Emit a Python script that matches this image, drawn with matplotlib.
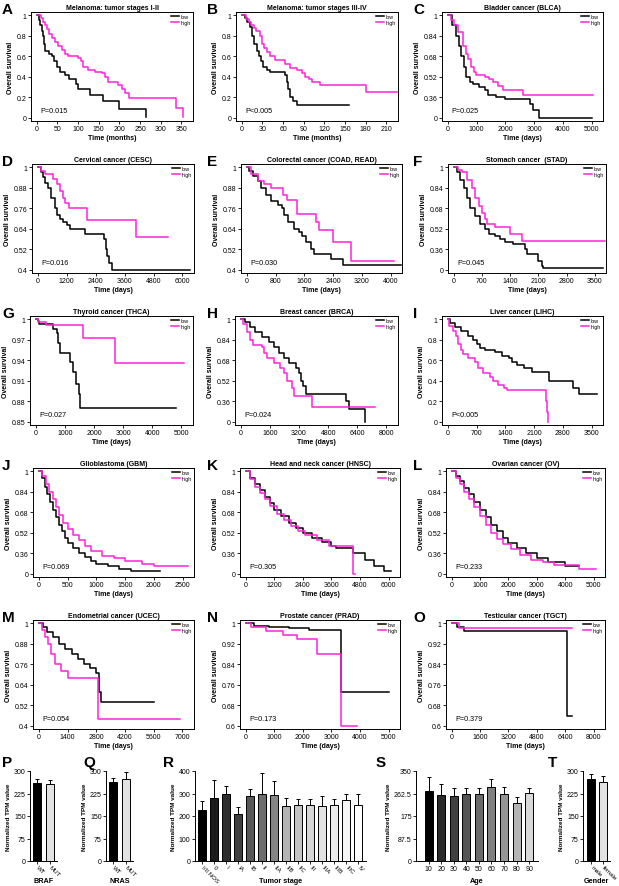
import matplotlib
matplotlib.use('Agg')
import matplotlib.pyplot as plt
import numpy as np

plt.rcParams['font.family'] = ['Liberation Sans', 'DejaVu Sans']

W, H = 619, 887
fig = plt.figure(figsize=(W / 100, H / 100), dpi=100)
MAG = '#ff22dd'

# ---------------- Kaplan-Meier data (time, survival as plotted on each axis) ----------------
A_low_t = [0, 5, 8, 12, 15, 18, 20, 30, 36, 42, 48, 56, 68, 77, 95, 100, 129, 161, 199, 265]
A_low_s = [1, 0.95, 0.9, 0.85, 0.8, 0.72, 0.65, 0.62, 0.6, 0.55, 0.5, 0.45, 0.42, 0.38, 0.33, 0.28, 0.22, 0.16, 0.09, 0.01]
A_high_t = [0, 10, 15, 20, 25, 30, 38, 45, 52, 60, 68, 76, 100, 106, 112, 124, 140, 157, 165, 173, 197, 205, 213, 222, 338, 354]
A_high_s = [1, 0.97, 0.93, 0.9, 0.86, 0.82, 0.78, 0.74, 0.7, 0.66, 0.62, 0.6, 0.58, 0.55, 0.5, 0.47, 0.45, 0.44, 0.4, 0.35, 0.32, 0.28, 0.24, 0.19, 0.1, 0.01]

B_low_t = [0, 4, 8, 12, 15, 18, 22, 25, 28, 31, 36, 41, 63, 65, 67, 70, 75, 80, 156]
B_low_s = [1, 0.97, 0.93, 0.88, 0.8, 0.72, 0.65, 0.6, 0.55, 0.5, 0.47, 0.45, 0.42, 0.35, 0.28, 0.2, 0.16, 0.13, 0.13]
B_high_t = [0, 6, 10, 14, 18, 21, 26, 29, 32, 36, 41, 48, 63, 70, 80, 87, 92, 97, 102, 114, 180, 225]
B_high_s = [1, 0.96, 0.93, 0.9, 0.87, 0.85, 0.8, 0.72, 0.68, 0.64, 0.6, 0.56, 0.52, 0.49, 0.47, 0.44, 0.4, 0.38, 0.35, 0.32, 0.25, 0.25]

C_low_t = [0, 150, 290, 380, 465, 550, 640, 760, 870, 1100, 1280, 1400, 1690, 1980, 2850, 2960, 3170, 5000]
C_low_s = [1, 0.92, 0.84, 0.76, 0.68, 0.6, 0.52, 0.48, 0.46, 0.44, 0.42, 0.38, 0.36, 0.345, 0.31, 0.26, 0.2, 0.2]
C_high_t = [0, 100, 200, 350, 520, 640, 700, 820, 930, 990, 1280, 1420, 1570, 1745, 1920, 2620, 5050]
C_high_s = [1, 0.96, 0.92, 0.87, 0.76, 0.7, 0.66, 0.6, 0.56, 0.53, 0.52, 0.5, 0.48, 0.45, 0.42, 0.377, 0.377]

D_low_t = [0, 140, 210, 300, 420, 560, 700, 800, 920, 1060, 1200, 1340, 1970, 2750, 2820, 2890, 2960, 3060, 6300]
D_low_s = [1, 0.97, 0.94, 0.91, 0.88, 0.82, 0.76, 0.72, 0.7, 0.68, 0.66, 0.64, 0.61, 0.58, 0.52, 0.48, 0.44, 0.4, 0.4]
D_high_t = [0, 140, 280, 630, 800, 920, 1060, 1130, 1300, 2040, 4090, 5400]
D_high_s = [1, 0.98, 0.96, 0.93, 0.9, 0.86, 0.82, 0.79, 0.76, 0.69, 0.59, 0.59]

E_low_t = [0, 65, 160, 300, 390, 530, 670, 860, 970, 1040, 1150, 1320, 1450, 1550, 1650, 1790, 1880, 2340, 2670, 4300]
E_low_s = [1, 0.98, 0.95, 0.92, 0.88, 0.84, 0.8, 0.78, 0.76, 0.72, 0.68, 0.64, 0.62, 0.6, 0.56, 0.52, 0.49, 0.465, 0.43, 0.43]
E_high_t = [0, 110, 300, 480, 670, 1020, 1130, 1410, 1925, 2020, 2390, 2900, 4110]
E_high_s = [1, 0.96, 0.92, 0.9, 0.876, 0.84, 0.81, 0.724, 0.68, 0.63, 0.56, 0.45, 0.45]

F_low_t = [0, 80, 165, 250, 330, 410, 535, 660, 780, 865, 1030, 1150, 1280, 1480, 1770, 1810, 2100, 2180, 2220, 3700]
F_low_s = [1, 0.96, 0.9, 0.84, 0.76, 0.68, 0.62, 0.56, 0.52, 0.48, 0.46, 0.44, 0.42, 0.4, 0.36, 0.32, 0.27, 0.23, 0.213, 0.213]
F_high_t = [0, 100, 200, 330, 450, 535, 620, 700, 780, 820, 1030, 1400, 1690, 3750]
F_high_s = [1, 0.98, 0.96, 0.9, 0.84, 0.76, 0.7, 0.64, 0.6, 0.56, 0.53, 0.48, 0.425, 0.425]

G_low_t = [0, 60, 115, 575, 725, 760, 840, 1180, 1265, 1380, 1500, 1530, 4830]
G_low_s = [1, 0.997, 0.993, 0.985, 0.98, 0.965, 0.95, 0.937, 0.923, 0.905, 0.89, 0.87, 0.87]
G_high_t = [0, 60, 345, 1610, 2725, 5100]
G_high_s = [1, 0.996, 0.992, 0.973, 0.936, 0.936]

H_low_t = [0, 220, 500, 780, 1150, 1530, 1800, 2080, 2360, 2640, 3010, 3200, 3290, 3420, 3570, 5800, 5950, 6830]
H_low_s = [1, 0.98, 0.94, 0.9, 0.86, 0.82, 0.78, 0.74, 0.7, 0.66, 0.62, 0.58, 0.52, 0.48, 0.416, 0.36, 0.30, 0.2]
H_high_t = [0, 130, 320, 500, 690, 1150, 1250, 1430, 1800, 2180, 2360, 2550, 2790, 2920, 3940, 7380]
H_high_s = [1, 0.96, 0.9, 0.84, 0.8, 0.78, 0.74, 0.7, 0.66, 0.62, 0.58, 0.52, 0.46, 0.4, 0.314, 0.314]

I_low_t = [0, 65, 165, 330, 495, 620, 700, 780, 900, 1150, 1320, 1480, 1565, 1690, 1850, 2060, 2455, 3050, 3200, 3625]
I_low_s = [1, 0.96, 0.92, 0.88, 0.84, 0.8, 0.76, 0.72, 0.7, 0.68, 0.64, 0.62, 0.58, 0.55, 0.52, 0.49, 0.4, 0.33, 0.27, 0.27]
I_high_t = [0, 40, 125, 205, 250, 315, 370, 495, 660, 740, 865, 1030, 1110, 1235, 1360, 1440, 2390, 2410, 2430]
I_high_s = [1, 0.93, 0.88, 0.84, 0.76, 0.7, 0.66, 0.62, 0.58, 0.52, 0.48, 0.44, 0.4, 0.36, 0.33, 0.31, 0.2, 0.1, 0.0]

J_low_t = [0, 50, 100, 150, 200, 250, 300, 350, 400, 450, 500, 600, 700, 800, 900, 1000, 1200, 1400, 1600, 2100]
J_low_s = [1, 0.95, 0.88, 0.82, 0.76, 0.7, 0.64, 0.58, 0.53, 0.48, 0.44, 0.4, 0.36, 0.33, 0.3, 0.28, 0.26, 0.24, 0.22, 0.22]
J_high_t = [0, 60, 120, 180, 240, 300, 360, 420, 500, 600, 700, 800, 900, 1100, 1300, 1500, 1800, 2000, 2600]
J_high_s = [1, 0.96, 0.9, 0.84, 0.78, 0.72, 0.66, 0.6, 0.55, 0.5, 0.46, 0.42, 0.38, 0.34, 0.32, 0.3, 0.28, 0.26, 0.26]

K_low_t = [0, 200, 400, 600, 800, 1000, 1200, 1500, 1800, 2100, 2400, 2800, 3200, 3600, 3800, 4500, 5000, 5400, 5800, 6100]
K_low_s = [1, 0.95, 0.9, 0.85, 0.8, 0.75, 0.7, 0.65, 0.6, 0.56, 0.52, 0.48, 0.45, 0.42, 0.4, 0.36, 0.31, 0.26, 0.22, 0.22]
K_high_t = [0, 200, 400, 600, 800, 1000, 1300, 1600, 1900, 2200, 2500, 3000, 3500, 4500, 4600]
K_high_s = [1, 0.94, 0.88, 0.83, 0.78, 0.73, 0.67, 0.62, 0.57, 0.53, 0.5, 0.46, 0.42, 0.2, 0.2]

L_low_t = [0, 150, 300, 450, 600, 800, 1000, 1200, 1400, 1600, 1800, 2000, 2300, 2600, 3000, 3400, 4000, 4500]
L_low_s = [1, 0.96, 0.92, 0.87, 0.82, 0.76, 0.7, 0.64, 0.58, 0.53, 0.48, 0.44, 0.4, 0.36, 0.32, 0.29, 0.26, 0.26]
L_high_t = [0, 150, 300, 450, 600, 800, 1000, 1200, 1400, 1600, 1800, 2100, 2400, 2800, 3200, 3600, 4500, 5100]
L_high_s = [1, 0.95, 0.9, 0.84, 0.78, 0.72, 0.65, 0.58, 0.52, 0.47, 0.43, 0.39, 0.35, 0.31, 0.29, 0.27, 0.24, 0.24]

M_low_t = [0, 200, 400, 700, 1000, 1300, 1600, 1900, 2200, 2500, 2800, 2950, 3050, 5600]
M_low_s = [1, 0.98, 0.95, 0.92, 0.88, 0.85, 0.82, 0.79, 0.76, 0.74, 0.71, 0.6, 0.54, 0.54]
M_high_t = [0, 150, 300, 450, 600, 800, 1100, 1400, 2900, 6900]
M_high_s = [1, 0.96, 0.92, 0.88, 0.82, 0.76, 0.72, 0.68, 0.44, 0.44]

N_low_t = [0, 300, 800, 1500, 2200, 3350, 5000]
N_low_s = [1, 0.99, 0.985, 0.98, 0.975, 0.73, 0.73]
N_high_t = [0, 200, 700, 1300, 1800, 2500, 3350, 3900]
N_high_s = [1, 0.985, 0.97, 0.955, 0.94, 0.88, 0.6, 0.6]

O_low_t = [0, 300, 700, 6500, 6800]
O_low_s = [1, 0.985, 0.97, 0.64, 0.64]
O_high_t = [0, 400, 6800]
O_high_s = [1, 0.98, 0.98]

# axis ticks
Y_LIN01 = [0, 0.2, 0.4, 0.6, 0.8, 1.0]
Y_LIN01_LAB = ['0', '0.2', '0.4', '0.6', '0.8', '1']
Y_BRK = [0.2, 0.36, 0.52, 0.68, 0.84, 1.0]
Y_BRK_LAB = ['0', '0.36', '0.52', '0.68', '0.84', '1']
Y_04 = [0.4, 0.52, 0.64, 0.76, 0.88, 1.0]
Y_04_LAB = ['0.4', '0.52', '0.64', '0.76', '0.88', '1']
Y_085 = [0.85, 0.88, 0.91, 0.94, 0.97, 1.0]
Y_085_LAB = ['0.85', '0.88', '0.91', '0.94', '0.97', '1']
Y_06 = [0.6, 0.68, 0.76, 0.84, 0.92, 1.0]
Y_06_LAB = ['0.6', '0.68', '0.76', '0.84', '0.92', '1']

titles = ['Melanoma: tumor stages I-II', 'Melanoma: tumor stages III-IV', 'Bladder cancer (BLCA)',
          'Cervical cancer (CESC)', 'Colorectal cancer (COAD, READ)', 'Stomach cancer  (STAD)',
          'Thyroid cancer (THCA)', 'Breast cancer (BRCA)', 'Liver cancer (LIHC)',
          'Glioblastoma (GBM)', 'Head and neck cancer (HNSC)', 'Ovarian cancer (OV)',
          'Endometrial cancer (UCEC)', 'Prostate cancer (PRAD)', 'Testicular cancer (TGCT)']
pvals = ['P=0.015', 'P<0.005', 'P=0.025', 'P=0.016', 'P=0.030', 'P=0.045', 'P=0.027', 'P=0.024',
         'P<0.005', 'P=0.069', 'P=0.305', 'P=0.233', 'P=0.054', 'P=0.173', 'P=0.379']
xmax_ticks = [(350, 50), (210, 30), (5000, 1000), (6000, 1200), (4000, 800), (3500, 700),
              (5000, 1000), (8000, 1600), (3500, 700), (2500, 500), (6000, 1200), (5000, 1000),
              (7000, 1400), (5000, 1000), (8000, 1600)]
xlabels = ['Time (months)', 'Time (months)'] + ['Time (days)'] * 13
yaxes = [(Y_LIN01, Y_LIN01_LAB), (Y_LIN01, Y_LIN01_LAB), (Y_BRK, Y_BRK_LAB),
         (Y_04, Y_04_LAB), (Y_04, Y_04_LAB), (Y_BRK, Y_BRK_LAB),
         (Y_085, Y_085_LAB), (Y_BRK, Y_BRK_LAB), (Y_LIN01, Y_LIN01_LAB),
         (Y_BRK, Y_BRK_LAB), (Y_BRK, Y_BRK_LAB), (Y_BRK, Y_BRK_LAB),
         (Y_04, Y_04_LAB), (Y_06, Y_06_LAB), (Y_06, Y_06_LAB)]
curves = [(A_low_t, A_low_s, A_high_t, A_high_s), (B_low_t, B_low_s, B_high_t, B_high_s),
          (C_low_t, C_low_s, C_high_t, C_high_s), (D_low_t, D_low_s, D_high_t, D_high_s),
          (E_low_t, E_low_s, E_high_t, E_high_s), (F_low_t, F_low_s, F_high_t, F_high_s),
          (G_low_t, G_low_s, G_high_t, G_high_s), (H_low_t, H_low_s, H_high_t, H_high_s),
          (I_low_t, I_low_s, I_high_t, I_high_s), (J_low_t, J_low_s, J_high_t, J_high_s),
          (K_low_t, K_low_s, K_high_t, K_high_s), (L_low_t, L_low_s, L_high_t, L_high_s),
          (M_low_t, M_low_s, M_high_t, M_high_s), (N_low_t, N_low_s, N_high_t, N_high_s),
          (O_low_t, O_low_s, O_high_t, O_high_s)]
letters = list('ABCDEFGHIJKLMNO')

# ---------------- bar data ----------------
braf_cats = ['WT', 'MUT']
braf_vals = [260, 256]
braf_errs = [14, 14]
nras_cats = ['WT', 'MUT']
nras_vals = [264, 275]
nras_errs = [14, 21]
stage_cats = ['I/II NOS', '0', 'I', 'IA', 'IB', 'II', 'IIA', 'IIB', 'IIC', 'III', 'IIIA', 'IIIB', 'IIIC', 'IV']
stage_vals = [227, 281, 296, 209, 287, 299, 293, 243, 251, 248, 243, 248, 270, 248]
stage_errs = [39, 80, 38, 30, 31, 92, 64, 38, 25, 27, 48, 27, 29, 49]
age_cats = ['10', '20', '30', '40', '50', '60', '70', '80', '90']
age_vals = [273, 256, 252, 260, 262, 286, 262, 225, 266]
age_errs = [55, 44, 32, 22, 22, 34, 24, 24, 18]
gender_cats = ['male', 'female']
gender_vals = [274, 265]
gender_errs = [15, 18]

stage_colors = ['#000000', '#1c1c1c', '#2e2e2e', '#404040', '#585858', '#6e6e6e', '#858585',
                '#b4b4b4', '#c4c4c4', '#d6d6d6', '#e2e2e2', '#ececec', '#f6f6f6', '#ffffff']
age_colors = ['#000000', '#2a2a2a', '#404040', '#555555', '#6a6a6a', '#808080', '#959595',
              '#b5b5b5', '#d8d8d8']


def add_ax(l, t, r, b):
    return fig.add_axes([l / W, 1 - b / H, (r - l) / W, (b - t) / H])


def style(ax):
    for s in ax.spines.values():
        s.set_linewidth(0.7)
    ax.tick_params(labelsize=5, length=2, width=0.6, pad=1)


row_lefts = [[31, 236, 442], [32, 241, 448], [30, 235, 442], [33, 240, 446], [33, 240, 446]]
row_rights = [[193, 398, 603], [194, 402, 606], [193, 398, 603], [194, 400, 605], [194, 400, 605]]
letter_x = [2, 207, 413]
PITCH = 152

for i in range(15):
    r, c = divmod(i, 3)
    top = PITCH * r
    ax = add_ax(row_lefts[r][c], top + 13, row_rights[r][c], top + 122)
    lt, ls, ht, hs = curves[i]
    ax.step(lt, ls, where='post', color='black', lw=1.1, label='low')
    ax.step(ht, hs, where='post', color=MAG, lw=1.1, label='high')
    xmax, xstep = xmax_ticks[i]
    xt = list(range(0, xmax + 1, xstep))
    ax.set_xticks(xt)
    ax.set_xticklabels([str(v) for v in xt])
    ax.set_xlim(-0.04 * xmax, 1.08 * xmax)
    yt, yl = yaxes[i]
    ax.set_yticks(yt)
    ax.set_yticklabels(yl)
    rng = yt[-1] - yt[0]
    ax.set_ylim(yt[0] - 0.03 * rng, yt[-1] + 0.03 * rng)
    style(ax)
    ax.set_title(titles[i], fontsize=5, fontweight='bold', pad=2.5)
    ax.set_ylabel('Overall survival', fontsize=5, fontweight='bold', labelpad=2)
    ax.set_xlabel(xlabels[i], fontsize=5, fontweight='bold', labelpad=1)
    ax.text(0.06, 0.1, pvals[i], transform=ax.transAxes, fontsize=5.2, va='center', ha='left')
    ax.legend(loc='upper right', fontsize=3.8, frameon=False, handlelength=1.6,
              handletextpad=0.3, labelspacing=0.1, borderaxespad=0.3, borderpad=0.1)
    fig.text(letter_x[c] / W, 1 - (top + 10) / H, letters[i], fontsize=11, fontweight='bold',
             ha='left', va='center')


def bar_panel(l, r, xlim, cats, vals, errs, colors, yt, ytl, xlabel, letter, letx, width, rot):
    ax = add_ax(l, 772, r, 862)
    x = np.arange(len(cats))
    ax.bar(x, vals, width=width, color=colors, edgecolor='black', linewidth=0.7, zorder=3)
    ax.errorbar(x, vals, yerr=[np.zeros(len(vals)), errs], fmt='none', ecolor='black',
                elinewidth=0.7, capsize=1.5, capthick=0.7, zorder=2)
    ax.set_xlim(*xlim)
    ax.set_ylim(yt[0], yt[-1])
    ax.set_yticks(yt)
    ax.set_yticklabels(ytl)
    ax.set_xticks(x)
    style(ax)
    ax.spines['top'].set_visible(False)
    ax.spines['right'].set_visible(False)
    if rot:
        ax.set_xticklabels(cats, rotation=-45, ha='left', va='center', rotation_mode='anchor',
                           fontsize=4.4)
        ax.tick_params(axis='x', pad=1.5)
    else:
        ax.set_xticklabels(cats)
    ax.set_ylabel('Normalized TPM value', fontsize=4.6, fontweight='bold', labelpad=2)
    fig.text((l + r) / 2 / W, 1 - 882 / H, xlabel, fontsize=5.2, fontweight='bold',
             ha='center', va='center')
    fig.text(letx / W, 1 - 763 / H, letter, fontsize=11, fontweight='bold', ha='left', va='center')
    return ax


t300 = [0, 75, 150, 225, 300]
t300l = ['0', '75', '150', '225', '300']
bar_panel(30, 57, (-0.56, 1.6), braf_cats, braf_vals, braf_errs, ['#000000', '#e2e2e2'],
          t300, t300l, 'BRAF', 'P', 2, 0.64, True)
bar_panel(106, 133, (-0.56, 1.6), nras_cats, nras_vals, nras_errs, ['#000000', '#e2e2e2'],
          t300, t300l, 'NRAS', 'Q', 83, 0.64, True)
bar_panel(194.5, 366, (-0.65, 13.65), stage_cats, stage_vals, stage_errs, stage_colors,
          [0, 100, 200, 300, 400], ['0', '100', '200', '300', '400'], 'Tumor stage', 'R', 163, 0.7, True)
bar_panel(416, 538, (-1.0, 8.7), age_cats, age_vals, age_errs, age_colors,
          [0, 87.5, 175, 262.5, 350], ['0', '87.5', '175', '262.5', '350'], 'Age', 'S', 376, 0.64, False)
bar_panel(583, 610, (-0.75, 1.67), gender_cats, gender_vals, gender_errs, ['#000000', '#e2e2e2'],
          t300, t300l, 'Gender', 'T', 548, 0.72, True)

fig.savefig('out.png', dpi=100)
